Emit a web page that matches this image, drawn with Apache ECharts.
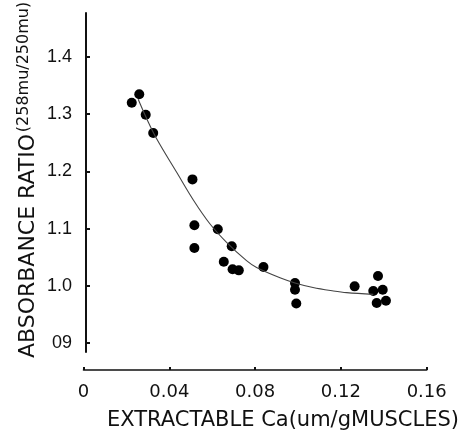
<!DOCTYPE html>
<html>
<head>
<meta charset="utf-8">
<script src="https://cdn.jsdelivr.net/npm/echarts@6/dist/echarts.min.js"></script>
<style>html,body{margin:0;padding:0;background:#fff}#c{width:463px;height:435px}</style>
</head>
<body>
<div id="c"></div>
<script>
// Scatter measurements: extractable Ca (um/g muscle) vs absorbance ratio
var pointX = [0.0225, 0.0260, 0.0290, 0.0325, 0.0508, 0.0517, 0.0517, 0.0626, 0.0691, 0.0654, 0.0695,
              0.0724, 0.0839, 0.0986, 0.0986, 0.0992, 0.1264, 0.1373, 0.1351, 0.1395, 0.1367, 0.1410];
var pointY = [1.320, 1.335, 1.299, 1.267, 1.186, 1.106, 1.066, 1.099, 1.069, 1.042, 1.029,
              1.027, 1.033, 1.005, 0.993, 0.969, 0.999, 1.017, 0.991, 0.993, 0.970, 0.974];
// Fitted curve
var curveX = [0.0255, 0.0290, 0.0341, 0.0435, 0.0512, 0.0590, 0.0667, 0.0760, 0.0807, 0.0916, 0.0986, 0.1070, 0.1165, 0.1227, 0.1351];
var curveY = [1.326, 1.296, 1.257, 1.198, 1.150, 1.108, 1.076, 1.044, 1.032, 1.014, 1.005, 0.997, 0.991, 0.988, 0.985];
// Tick labels
var xTicks = [0, 0.04, 0.08, 0.12, 0.16];
var xTickLabels = ['0', '0.04', '0.08', '0.12', '0.16'];
var yTicks = [0.9, 1.0, 1.1, 1.2, 1.3, 1.4];
var yTickLabels = ['09', '1.0', '1.1', '1.2', '1.3', '1.4'];
var xTitle = 'EXTRACTABLE Ca(um/gMUSCLES)';
var yTitleMain = 'ABSORBANCE RATIO';
var yTitleSub = '(258mu/250mu)';

function zip(a, b) { return a.map(function (v, i) { return [v, b[i]]; }); }
function nearestLabel(v, ticks, labels) {
  var best = 0;
  for (var i = 1; i < ticks.length; i++) if (Math.abs(ticks[i] - v) < Math.abs(ticks[best] - v)) best = i;
  return labels[best];
}

var chart = echarts.init(document.getElementById('c'), null, { renderer: 'canvas' });
chart.setOption({
  backgroundColor: '#ffffff',
  animation: false,
  grid: [
    { left: 83.5, right: 36.3, top: 13, bottom: 65 },
    { left: 86, right: 36.3, top: 13, bottom: 83 }
  ],
  xAxis: [
    {
      gridIndex: 0, type: 'value', min: 0, max: 0.16, interval: 0.04,
      axisLine: { show: true, lineStyle: { color: '#111', width: 1.6 } },
      axisTick: { show: true, inside: true, length: 3, lineStyle: { color: '#111', width: 2 } },
      axisLabel: {
        margin: 13, color: '#111', fontFamily: 'DejaVu Sans', fontSize: 18,
        customValues: xTicks,
        formatter: function (v) { return nearestLabel(v, xTicks, xTickLabels); }
      },
      splitLine: { show: false }
    },
    { gridIndex: 1, type: 'value', min: 0, max: 0.16, show: false }
  ],
  yAxis: [
    {
      gridIndex: 0, type: 'value', min: 0.8528, max: 1.4769,
      axisLine: { show: false }, axisTick: { show: false }, axisLabel: { show: false },
      splitLine: { show: false }
    },
    {
      gridIndex: 1, type: 'value', min: 0.8843, max: 1.4769,
      axisLine: { show: true, lineStyle: { color: '#111', width: 2 } },
      axisTick: { show: true, inside: true, length: 4, customValues: yTicks, lineStyle: { color: '#111', width: 2 } },
      axisLabel: {
        margin: 14, color: '#111', fontFamily: 'Liberation Sans', fontSize: 18,
        padding: [6, 0, 0, 0],
        customValues: yTicks,
        formatter: function (v) { return nearestLabel(v, yTicks, yTickLabels); }
      },
      splitLine: { show: false }
    }
  ],
  series: [
    {
      type: 'line', xAxisIndex: 0, yAxisIndex: 0,
      data: zip(curveX, curveY), smooth: 0.35, showSymbol: false,
      lineStyle: { color: '#444', width: 1.1 }
    },
    {
      type: 'scatter', xAxisIndex: 0, yAxisIndex: 0,
      data: zip(pointX, pointY), symbol: 'circle', symbolSize: 10,
      itemStyle: { color: '#000', opacity: 1 }
    }
  ],
  graphic: [
    {
      type: 'text', left: 107, top: 410,
      style: { text: xTitle, fontFamily: 'DejaVu Sans', fontSize: 21, fill: '#111' }
    },
    {
      type: 'text', x: 28, y: 246, rotation: Math.PI / 2,
      style: { text: yTitleMain, fontFamily: 'DejaVu Sans', fontSize: 22, fill: '#111', align: 'center', verticalAlign: 'middle' }
    },
    {
      type: 'text', x: 24, y: 67, rotation: Math.PI / 2,
      style: { text: yTitleSub, fontFamily: 'DejaVu Sans', fontSize: 16, fill: '#111', align: 'center', verticalAlign: 'middle' }
    }
  ]
});
</script>
</body>
</html>
